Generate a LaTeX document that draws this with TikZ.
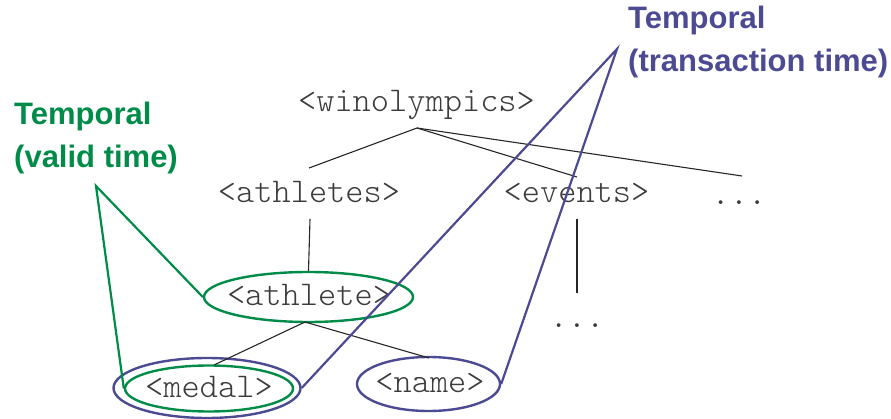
\documentclass[tikz,border=0pt]{standalone}
\usepackage{fontspec}
\setmainfont{Liberation Sans}
\newfontfamily\tagfont{lmmonolt10-regular.otf}
\usetikzlibrary{shapes.geometric}
\definecolor{vgreen}{RGB}{0,140,72}
\definecolor{tblue}{RGB}{76,74,146}
\definecolor{tagtext}{RGB}{60,60,60}
\begin{document}
\begin{tikzpicture}[x=1pt,y=-1pt,
  tag/.style={font=\tagfont\fontsize{34.7}{36}\selectfont, text=tagtext, inner sep=0pt, anchor=base},
  label/.style={font=\bfseries\fontsize{31}{43}\selectfont, align=left, inner sep=0pt, anchor=north west},
  treeline/.style={draw=black!85, line width=1.1pt},
  ring/.style={ellipse, draw, line width=2.4pt, inner sep=0pt},
  pointer/.style={line width=2.2pt}]
\useasboundingbox (0,0) rectangle (891,419);

% XML element tree
\node[tag] (win) at (416.5,112) {<winolympics>};
\node[tag] (athletes) at (309,203) {<athletes>};
\node[tag] (events) at (576.5,203) {<events>};
\node[tag] (dotsA) at (739,205) {...};
\node[tag] (athlete) at (309,306) {<athlete>};
\node[tag] (dotsB) at (577,328) {...};
\node[tag] (medal) at (209,397) {<medal>};
\node[tag] (name) at (430,392) {<name>};

% annotation labels
\node[label, text=vgreen] (valid) at (14,102) {Temporal\\(valid time)};
\node[label, text=tblue] (trans) at (628,6) {Temporal\\(transaction time)};

% rings around the temporal elements
\node[ring, draw=vgreen, minimum width=209, minimum height=50] (athleteR) at (308.5,297) {};
\node[ring, draw=vgreen, minimum width=168, minimum height=46] (medalG) at (209,388.5) {};
\node[ring, draw=tblue, minimum width=187, minimum height=60] (medalB) at (207,388) {};
\node[ring, draw=tblue, minimum width=143, minimum height=54] (nameR) at (428.5,384) {};

% tree edges
\coordinate (winJ) at (417,128);
\coordinate (athletesT) at (309,168);
\coordinate (eventsT) at (577,177);
\coordinate (dotsT) at (742,176);
\coordinate (athletesB) at (310,219);
\coordinate (eventsB) at (577,219);
\coordinate (eventsE) at (577,293);
\coordinate (athleteB) at (305,322);
\coordinate (medalT) at (214,365);
\coordinate (nameT) at (429,358);
\draw[treeline] (winJ) -- (athletesT);
\draw[treeline] (winJ) -- (eventsT);
\draw[treeline] (winJ) -- (dotsT);
\draw[treeline] (athletesB) -- (athleteR.north);
\draw[treeline] (eventsB) -- (eventsE);
\draw[treeline] (athleteB) -- (medalT);
\draw[treeline] (athleteB) -- (nameT);

% pointers from the labels to the rings
\coordinate (gApex) at (96,186);
\coordinate (bApex) at (617,49);
\draw[pointer, vgreen] (athleteR.west) -- (gApex) -- (medalG.west);
\draw[pointer, tblue] (medalB.east) -- (bApex) -- (nameR.east);
\end{tikzpicture}
\end{document}
